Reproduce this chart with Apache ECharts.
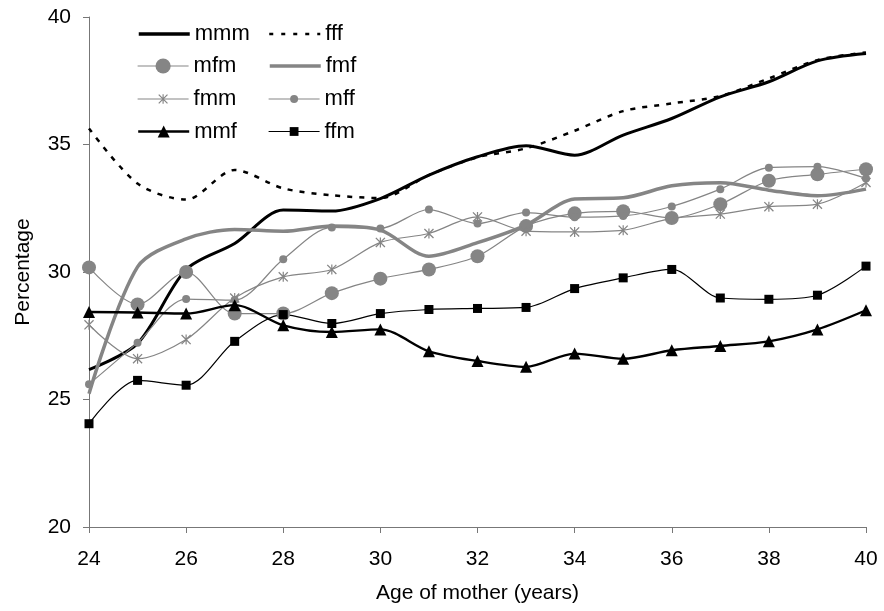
<!DOCTYPE html>
<html>
<head>
<meta charset="utf-8">
<script src="https://cdn.jsdelivr.net/npm/echarts@6/dist/echarts.min.js"></script>
<style>html,body{margin:0;padding:0;background:#fff;}#c{width:884px;height:611px;}</style>
</head>
<body>
<div id="c"></div>
<script>
const ages = [24,25,26,27,28,29,30,31,32,33,34,35,36,37,38,39,40];
const xTicks = [24,26,28,30,32,34,36,38,40];
const yTicks = [20,25,30,35,40];
const mmm = [26.17,27.2,30.1,31.12,32.43,32.39,32.88,33.80,34.52,34.95,34.58,35.37,36.02,36.87,37.46,38.28,38.57];
const fff = [35.63,33.47,32.84,34.0,33.28,33.01,32.9,33.8,34.5,34.85,35.54,36.31,36.61,36.9,37.59,38.31,38.61];
const mfm = [30.18,28.73,30.0,28.37,28.37,29.17,29.74,30.10,30.62,31.80,32.30,32.38,32.12,32.66,33.58,33.83,34.03];
const fmf = [25.23,30.2,31.3,31.67,31.6,31.8,31.64,30.62,31.15,31.84,32.86,32.91,33.38,33.5,33.21,32.99,33.25];
const fmm = [27.93,26.6,27.35,28.98,29.81,30.10,31.16,31.51,32.16,31.60,31.57,31.64,32.1,32.27,32.56,32.66,33.51];
const mff = [25.6,27.23,28.94,28.9,30.5,31.75,31.71,32.45,31.90,32.33,32.15,32.2,32.57,33.25,34.09,34.13,33.67];
const mmf = [28.43,28.41,28.37,28.70,27.91,27.65,27.75,26.89,26.51,26.28,26.80,26.60,26.93,27.10,27.28,27.75,28.50];
const ffm = [24.05,25.75,25.56,27.28,28.33,27.98,28.37,28.53,28.57,28.61,29.35,29.77,30.10,28.98,28.93,29.09,30.23];

const GRAY = '#858585';
const BLACK = '#000000';
const FONT = '"Liberation Sans", Arial, sans-serif';
const star = 'path://M4.4 0 L5.6 0 L5.6 10 L4.4 10 Z M0 0.9 L0.9 0 L10 9.1 L9.1 10 Z M9.1 0 L10 0.9 L0.9 10 L0 9.1 Z';

const pts = v => ages.map((a, i) => [a, v[i]]);

function ser(name, vals, color, width, opts) {
  return Object.assign({
    name: name, type: 'line', data: pts(vals), smooth: 0.3,
    symbol: 'none', showSymbol: true,
    lineStyle: { color: color, width: width },
    itemStyle: { color: color },
    emphasis: { disabled: true }, silent: true, animation: false
  }, opts || {});
}

const series = [
  ser('mmm', mmm, BLACK, 3),
  ser('fff', fff, BLACK, 2.5, { lineStyle: { color: BLACK, width: 2.5, type: [5, 7] } }),
  ser('mfm', mfm, GRAY, 1.2, { symbol: 'circle', symbolSize: 14 }),
  ser('fmf', fmf, GRAY, 3.5),
  ser('fmm', fmm, GRAY, 1.2, { symbol: star, symbolSize: 10 }),
  ser('mff', mff, GRAY, 1.2, { symbol: 'circle', symbolSize: 8 }),
  ser('mmf', mmf, BLACK, 2.4, { symbol: 'triangle', symbolSize: 12 }),
  ser('ffm', ffm, BLACK, 1.2, { symbol: 'rect', symbolSize: 9 })
];

const TH = 22;
function leg(name, left, cy, ih, color, width, dash, hideSym) {
  const o = {
    data: [name], left: left, top: cy - Math.max(ih, TH) / 2, padding: 0,
    itemWidth: 51, itemHeight: ih, selectedMode: false,
    textStyle: { fontFamily: FONT, fontSize: 22, color: '#000' },
    lineStyle: { color: color, width: width, type: dash || 'solid', opacity: 1 }
  };
  if (hideSym) o.itemStyle = { opacity: 0 };
  return o;
}

const option = {
  animation: false,
  backgroundColor: '#fff',
  grid: { left: 89, right: 18, top: 17, bottom: 84 },
  legend: [
    leg('mmm', 137, 34, 14, BLACK, 3.5, null, true),
    leg('fff', 268, 34, 14, BLACK, 2.5, [4, 8], true),
    leg('mfm', 137, 66, 19, GRAY, 1.2),
    leg('fmf', 268, 66, 14, GRAY, 3.5, null, true),
    leg('fmm', 137, 99, 12, GRAY, 1.2),
    leg('mff', 268, 99, 10, GRAY, 1.2),
    leg('mmf', 137, 131.5, 15, BLACK, 2.4),
    leg('ffm', 268, 131.5, 11, BLACK, 1.2)
  ],
  xAxis: {
    type: 'value', min: xTicks[0], max: xTicks[xTicks.length - 1], interval: 2,
    name: 'Age of mother (years)', nameLocation: 'middle', nameGap: 56,
    nameTextStyle: { fontFamily: FONT, fontSize: 21, color: '#000' },
    axisLine: { show: true, lineStyle: { color: '#777', width: 1 } },
    axisTick: { show: true, length: 6, lineStyle: { color: '#777' } },
    axisLabel: { fontFamily: FONT, fontSize: 21, color: '#000', margin: 22 },
    splitLine: { show: false }
  },
  yAxis: {
    type: 'value', min: yTicks[0], max: yTicks[yTicks.length - 1], interval: 5,
    name: 'Percentage', nameLocation: 'middle', nameGap: 55,
    nameTextStyle: { fontFamily: FONT, fontSize: 21, color: '#000' },
    axisLine: { show: true, lineStyle: { color: '#777', width: 1 } },
    axisTick: { show: true, length: 6, lineStyle: { color: '#777' } },
    axisLabel: { fontFamily: FONT, fontSize: 21, color: '#000', margin: 18 },
    splitLine: { show: false }
  },
  series: series
};

const chart = echarts.init(document.getElementById('c'), null, { renderer: 'canvas' });
chart.setOption(option);
</script>
</body>
</html>
